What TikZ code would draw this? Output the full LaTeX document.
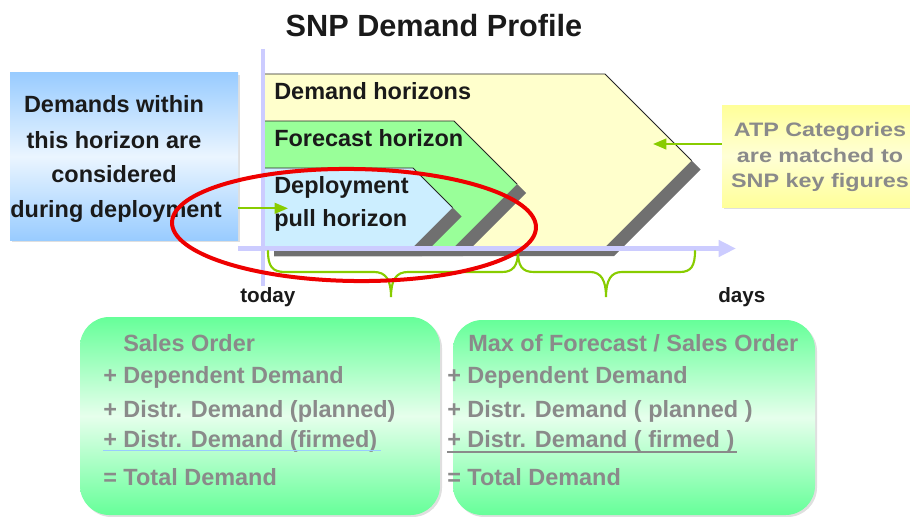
\documentclass[tikz,border=0pt]{standalone}
\usepackage{fontspec}
\setmainfont{Liberation Sans}
\usetikzlibrary{arrows.meta,shadows,fit}

\definecolor{ink}{HTML}{1A1A1A}
\definecolor{txtgray}{HTML}{8A8A8A}
\definecolor{chevyellow}{HTML}{FFFFCC}
\definecolor{chevgreen}{HTML}{99FF99}
\definecolor{chevblue}{HTML}{CCEEFF}
\definecolor{chevshadow}{HTML}{707070}
\definecolor{axiscol}{HTML}{CCCCFF}
\definecolor{boxblue}{HTML}{99CCFF}
\definecolor{boxbluemid}{HTML}{EAF5FF}
\definecolor{boxyellow}{HTML}{FFFF99}
\definecolor{boxyellowmid}{HTML}{FFFFD6}
\definecolor{boxgreen}{HTML}{66FF99}
\definecolor{boxgreenmid}{HTML}{E6FFEC}
\definecolor{linkgreen}{HTML}{88CC00}
\definecolor{ringred}{HTML}{EE0000}
\definecolor{rulebl}{HTML}{99CCFF}

\begin{document}
\begin{tikzpicture}[x=0.75pt,y=-0.75pt,
  body/.style={font=\fontsize{17.6}{21}\selectfont\bfseries, text=ink, inner sep=0},
  txtline/.style={body, anchor=base west},
  grayline/.style={txtline, text=txtgray},
  softshadow/.style={drop shadow={opacity=0.25, shadow xshift=1.5pt, shadow yshift=-1.5pt}},
  horizonedge/.style={draw=black!85, line width=0.6pt},
  link/.style={draw=linkgreen, line width=1.6pt, -{Triangle[length=10pt,width=8pt]}},
  brace/.style={draw=linkgreen, line width=1.6pt, line cap=round},
  axis/.style={draw=axiscol, line width=3.2pt}]

\useasboundingbox (0,0) rectangle (910,517);

% title
\node[font=\fontsize{23}{28}\selectfont\bfseries, text=ink, inner sep=0, anchor=base] (title) at (434,37) {SNP Demand Profile};

% left info box
\node[fit={(10,73) (238,240)}, inner sep=0, top color=boxblue, bottom color=boxblue, middle color=boxbluemid, softshadow] (deploybox) {};
\node[body, anchor=base] (dl1) at (114,113) {Demands within};
\node[body, anchor=base] (dl2) at (114,148) {this horizon are};
\node[body, anchor=base] (dl3) at (114,182) {considered};
\node[body, anchor=base] (dl4) at (116,217) {during deployment};

% right info box
\node[fit={(722,105) (912,207)}, inner sep=0, top color=boxyellow, bottom color=boxyellow, middle color=boxyellowmid, softshadow] (atpbox) {};
\node[body, font=\fontsize{14.6}{18}\selectfont\bfseries, text=txtgray, anchor=base] (al1) at (820,136) {\scalebox{1.2}[1]{ATP Categories}};
\node[body, font=\fontsize{14.6}{18}\selectfont\bfseries, text=txtgray, anchor=base] (al2) at (820,162) {\scalebox{1.2}[1]{are matched to}};
\node[body, font=\fontsize{14.6}{18}\selectfont\bfseries, text=txtgray, anchor=base] (al3) at (820,187) {\scalebox{1.2}[1]{SNP key figures}};

% time axis (vertical)
\draw[axis] (263,49) coordinate (vtop) -- (263,286) coordinate (vbot);

% horizon chevrons: shadow first, then fill, then upper edge
\fill[chevshadow] (274,83) -- (614,83) -- (700.5,169.5) -- (614,256) -- (274,256) -- cycle;
\fill[chevyellow] (265,74) -- (605,74) -- (691.5,160.5) -- (605,247) -- (265,247) -- cycle;
\draw[horizonedge] (265,74) -- (605,74) -- (691.5,160.5);

\fill[chevshadow] (274,130) -- (463,130) -- (526,193) -- (463,256) -- (274,256) -- cycle;
\fill[chevgreen] (265,121) -- (454,121) -- (517,184) -- (454,247) -- (265,247) -- cycle;
\draw[horizonedge] (265,121) -- (454,121) -- (517,184);

\fill[chevshadow] (274,177) -- (422,177) -- (461.5,216.5) -- (422,256) -- (274,256) -- cycle;
\fill[chevblue] (265,168) -- (413,168) -- (452.5,207.5) -- (413,247) -- (265,247) -- cycle;
\draw[horizonedge] (265,168) -- (413,168) -- (452.5,207.5);

\node[txtline] (hz1) at (274,99) {Demand horizons};
\node[txtline] (hz2) at (274,146.5) {Forecast horizon};
\node[txtline] (hz3a) at (274,193) {Deployment};
\node[txtline] (hz3b) at (274,226) {pull horizon};

% time axis (horizontal)
\coordinate (hstart) at (238,248.5);
\coordinate (hend) at (736,248.5);
\draw[axis, -{Triangle[length=13pt,width=12pt]}] (hstart) -- (hend);

\node[txtline, font=\fontsize{15.5}{18}\selectfont\bfseries] (today) at (240,302) {today};
\node[txtline, font=\fontsize{15.5}{18}\selectfont\bfseries] (days) at (718,302) {days};

% pointers into the chart
\coordinate (pullin) at (288,208.3);
\coordinate (atpin) at (653,144);
\draw[link] (deploybox.east |- pullin) -- (pullin);
\draw[link] (atpbox.west |- atpin) -- (atpin);

% braces under the axis
\draw[brace] (268,251) .. controls (268,266) and (272,272) .. (285,272) -- (374,272)
  .. controls (386,272) and (391,280) .. (391,297)
  .. controls (391,280) and (396,272) .. (408,272) -- (502,272)
  .. controls (513,272) and (518,266) .. (518,251);
\draw[brace] (518,251) .. controls (518,266) and (522,272) .. (534,272) -- (590,272)
  .. controls (601,272) and (606,280) .. (606,297)
  .. controls (606,280) and (611,272) .. (622,272) -- (680,272)
  .. controls (691,272) and (695,266) .. (695,251);

% deployment horizon marker
\draw[ringred, line width=3pt, rotate around={-0.8:(354,225)}] (354,225) ellipse [x radius=182, y radius=56];

% demand summary boxes
\node[fit={(80,317) (440,515)}, inner sep=0, rounded corners=22pt, top color=boxgreen, bottom color=boxgreen, middle color=boxgreenmid, softshadow] (sumleft) {};
\node[fit={(453,320) (815,515)}, inner sep=0, rounded corners=22pt, top color=boxgreen, bottom color=boxgreen, middle color=boxgreenmid, softshadow] (sumright) {};

\node[grayline] (sl1) at (123,351) {Sales Order};
\node[grayline] (sl2) at (103,383) {+ Dependent Demand};
\node[grayline] (sl3) at (103,417) {+ Distr. Demand (planned)};
\node[grayline] (sl4) at (103,447) {+ Distr. Demand (firmed)};
\node[grayline] (sl5) at (103,485) {= Total Demand};
\draw[rulebl, line width=1pt] (103,450.5) -- (381,450.5);

\node[grayline] (sr1) at (468,351) {Max of Forecast / Sales Order};
\node[grayline] (sr2) at (447,383) {+ Dependent Demand};
\node[grayline] (sr3) at (447,417) {+ Distr. Demand ( planned )};
\node[grayline] (sr4) at (447,447) {+ Distr. Demand ( firmed )};
\node[grayline] (sr5) at (447,485) {= Total Demand};
\draw[txtgray, line width=1pt] (447,452) -- (737,452);

\end{tikzpicture}
\end{document}
